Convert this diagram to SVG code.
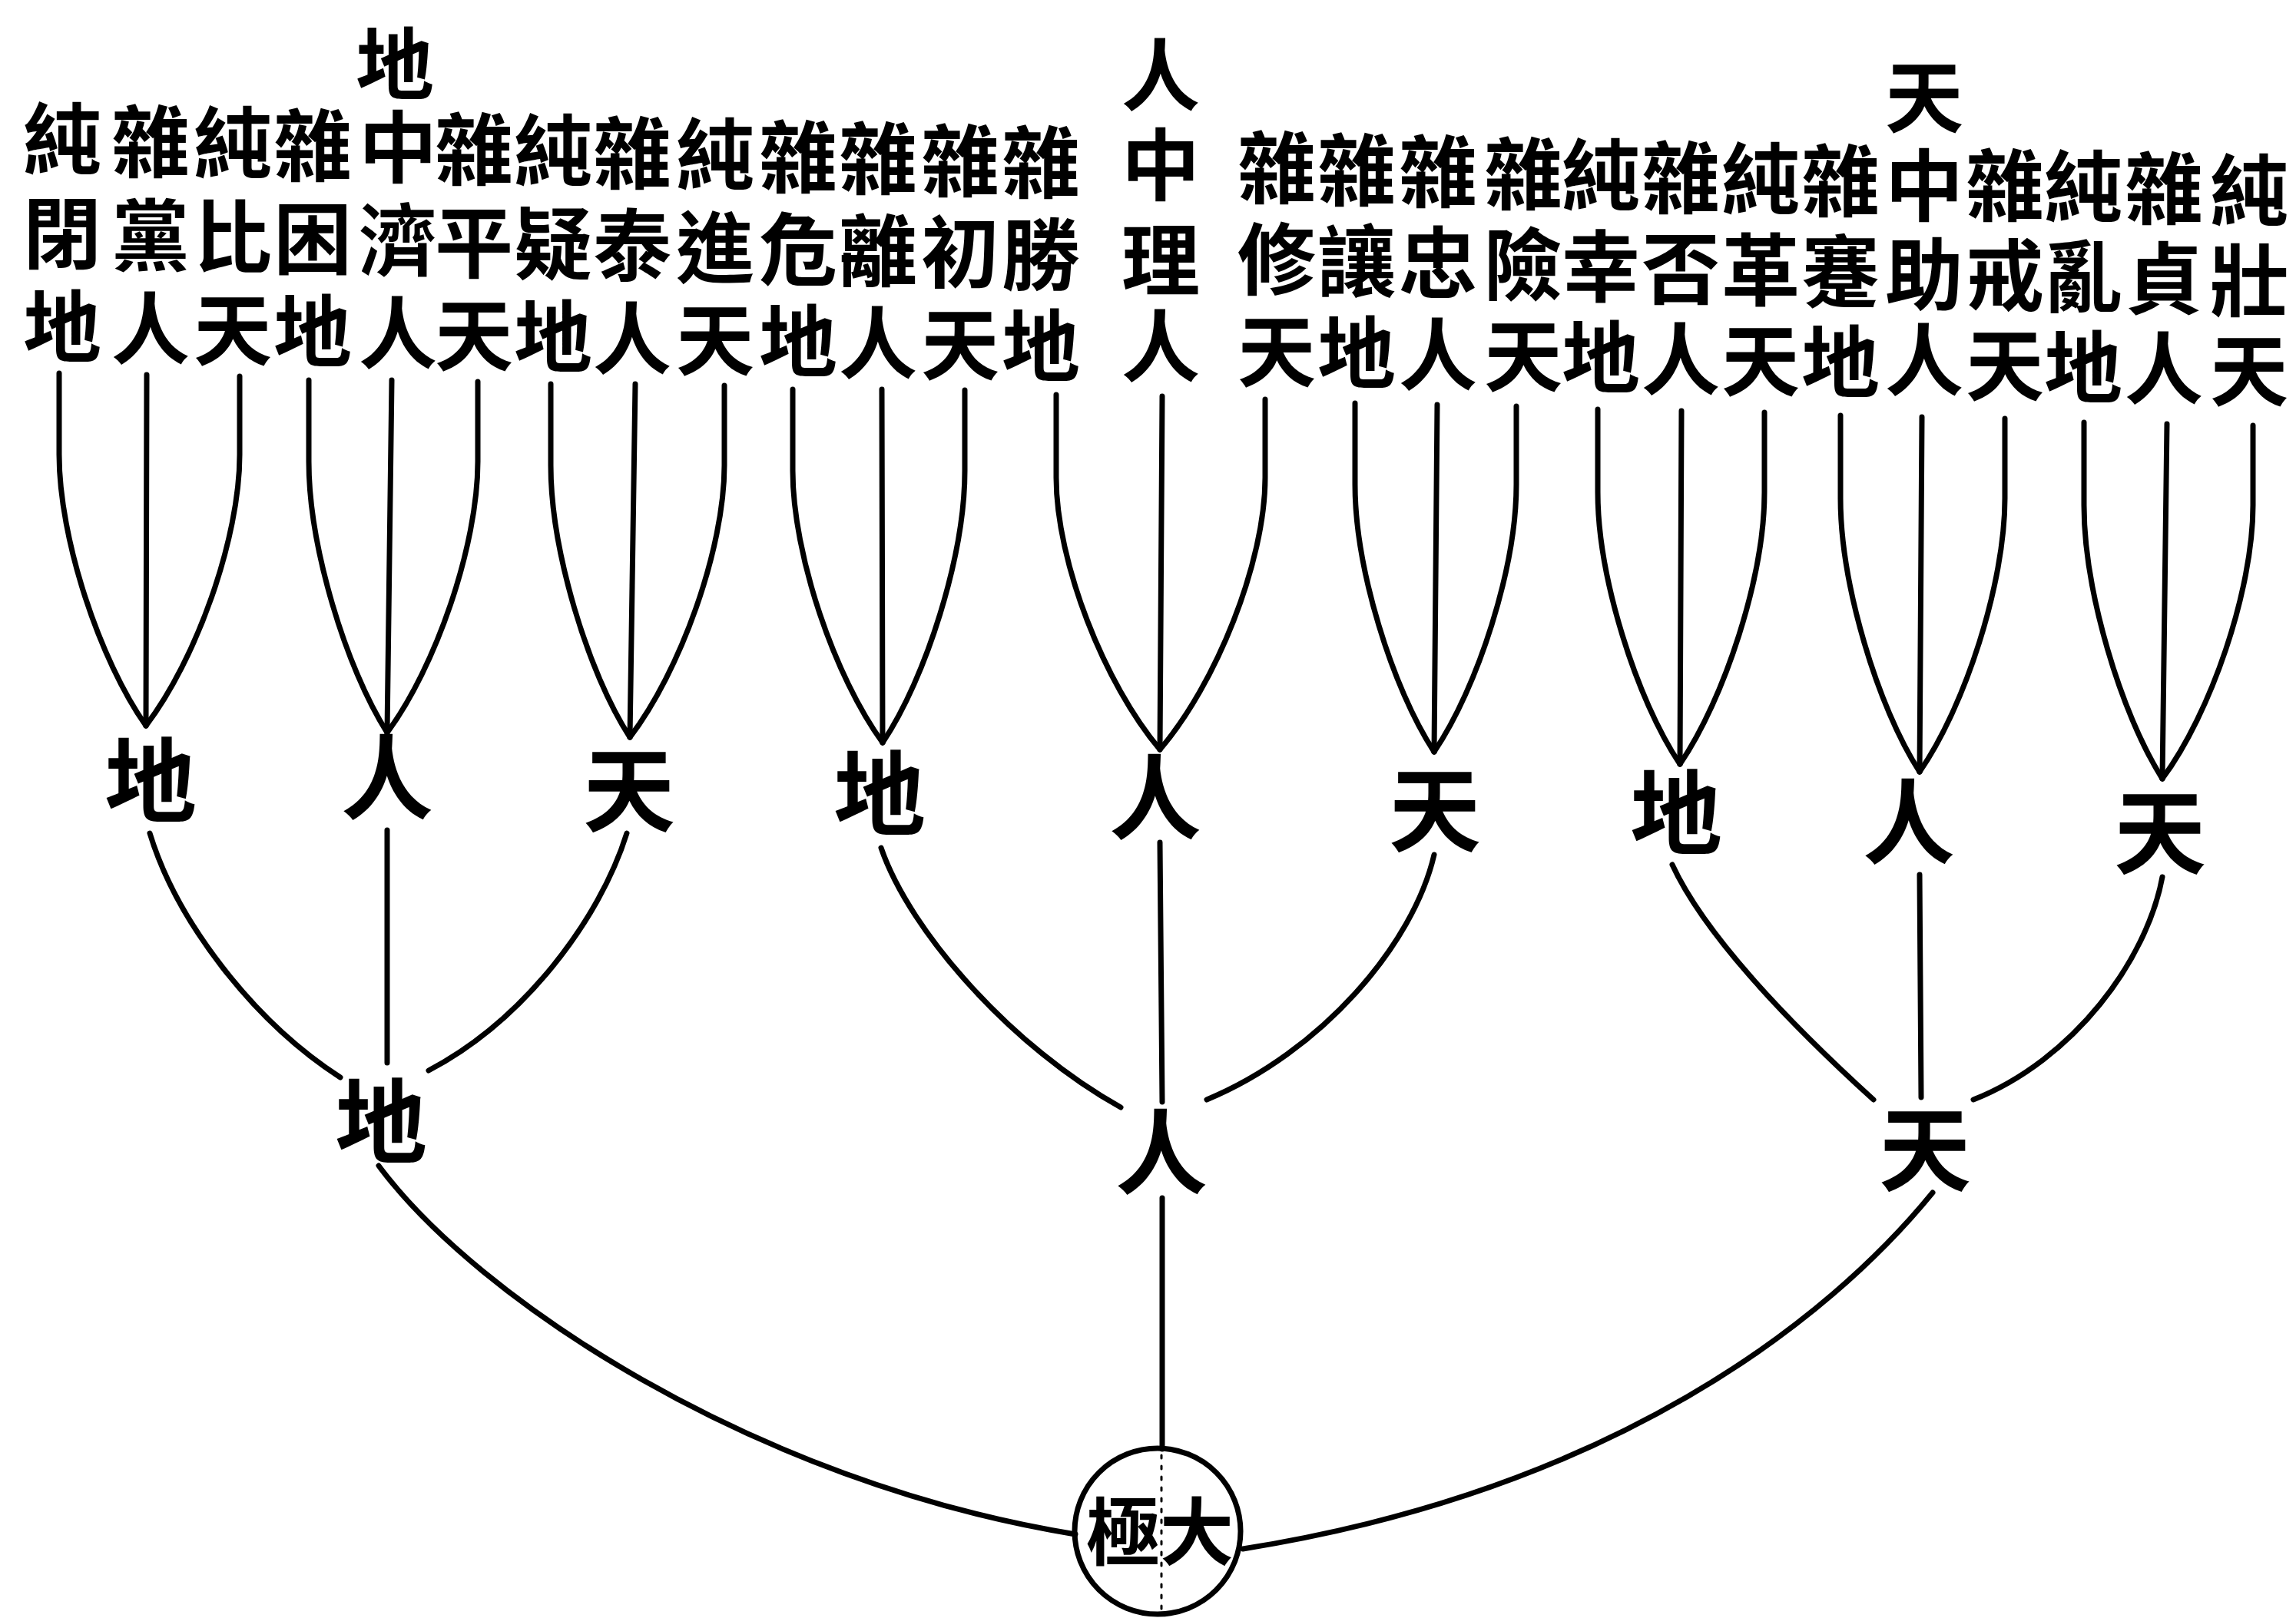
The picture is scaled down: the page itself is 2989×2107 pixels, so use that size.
<svg xmlns="http://www.w3.org/2000/svg" width="2989" height="2107" viewBox="0 0 2989 2107">
<style>
text{font-family:"Noto Sans CJK TC","Noto Sans CJK SC",sans-serif;font-weight:700;text-anchor:middle;fill:#000}
.t{font-size:102px}
.m{font-size:120px}
.k{font-size:96px}
.c path,.c circle{stroke:#000;stroke-width:7;fill:none;stroke-linecap:round}
.c .d{stroke-width:3;stroke-dasharray:4 10}
</style>
<rect width="2989" height="2107" fill="#fff"/>
<g class="c" id="connectors">
<path d="M77,486 L77,592 C77,702 130,860 190,945"/><path d="M191,488 L190,945"/><path d="M312,490 L312,592 C312,702 255,860 190,945"/>
<path d="M402,495 L402,601 C402,711 450,869 504,954"/><path d="M510,495 L504,954"/><path d="M622,497 L622,601 C622,711 567,869 504,954"/>
<path d="M717,500 L717,606 C717,716 765,875 820,960"/><path d="M827,500 L820,960"/><path d="M943,502 L943,606 C943,716 885,875 820,960"/>
<path d="M1032,507 L1032,613 C1032,723 1087,882 1149,967"/><path d="M1148,507 L1149,967"/><path d="M1256,508 L1256,613 C1256,723 1206,882 1149,967"/>
<path d="M1375,514 L1375,622 C1375,732 1438,891 1510,976"/><path d="M1513,516 L1510,976"/><path d="M1647,520 L1647,622 C1647,732 1583,891 1510,976"/>
<path d="M1764,525 L1764,631 C1764,739 1812,895 1867,979"/><path d="M1871,527 L1867,979"/><path d="M1974,529 L1974,631 C1974,739 1924,895 1867,979"/>
<path d="M2080,533 L2080,641 C2080,751 2130,910 2187,995"/><path d="M2189,535 L2187,995"/><path d="M2297,537 L2297,641 C2297,751 2245,910 2187,995"/>
<path d="M2396,541 L2396,649 C2396,760 2444,920 2499,1005"/><path d="M2502,543 L2499,1005"/><path d="M2610,545 L2610,649 C2610,760 2558,920 2499,1005"/>
<path d="M2713,550 L2713,658 C2713,769 2761,929 2815,1014"/><path d="M2821,552 L2815,1014"/><path d="M2933,554 L2933,658 C2933,769 2878,929 2815,1014"/>
<path d="M195,1085 C230,1200 330,1330 443,1403"/><path d="M504,1081 L504,1384"/><path d="M816,1085 C780,1200 680,1330 558,1394"/>
<path d="M1147,1104 C1185,1215 1320,1365 1459,1442"/><path d="M1510,1097 L1513,1435"/><path d="M1867,1113 C1840,1230 1720,1370 1571,1432"/>
<path d="M2177,1126 C2225,1230 2360,1360 2439,1432"/><path d="M2499,1139 L2501,1429"/><path d="M2815,1142 C2795,1250 2700,1380 2569,1432"/>
<path d="M493,1518 C620,1690 980,1930 1400,1998"/><path d="M1513,1560 L1513,1887"/><path d="M2516,1553 C2380,1720 2100,1940 1618,2017"/>
<circle cx="1507" cy="1994" r="108"/>
<path class="d" d="M1512,1895 L1512,2100"/>
</g>
<g id="c1"><text class="t"><tspan x="81" y="220">純</tspan><tspan x="81" y="342">閉</tspan><tspan x="81" y="464">地</tspan></text></g>
<g id="c2"><text class="t"><tspan x="196" y="223">雜</tspan><tspan x="196" y="345">黨</tspan><tspan x="196" y="466">人</tspan></text></g>
<g id="c3"><text class="t"><tspan x="303" y="225">純</tspan><tspan x="303" y="347">比</tspan><tspan x="303" y="468">天</tspan></text></g>
<g id="c4"><text class="t"><tspan x="407" y="228">雜</tspan><tspan x="407" y="349">困</tspan><tspan x="407" y="470">地</tspan></text></g>
<g id="c5"><text class="t"><tspan x="514" y="122">地</tspan><tspan x="518" y="230">中</tspan><tspan x="518" y="351">濟</tspan><tspan x="518" y="472">人</tspan></text></g>
<g id="c6"><text class="t"><tspan x="617" y="233">雜</tspan><tspan x="617" y="354">平</tspan><tspan x="617" y="475">天</tspan></text></g>
<g id="c7"><text class="t"><tspan x="720" y="235">純</tspan><tspan x="720" y="356">疑</tspan><tspan x="720" y="477">地</tspan></text></g>
<g id="c8"><text class="t"><tspan x="823" y="238">雜</tspan><tspan x="823" y="358">泰</tspan><tspan x="823" y="479">人</tspan></text></g>
<g id="c9"><text class="t"><tspan x="931" y="240">純</tspan><tspan x="931" y="361">進</tspan><tspan x="931" y="481">天</tspan></text></g>
<g id="c10"><text class="t"><tspan x="1039" y="243">雜</tspan><tspan x="1039" y="363">危</tspan><tspan x="1039" y="483">地</tspan></text></g>
<g id="c11"><text class="t"><tspan x="1143" y="245">雜</tspan><tspan x="1143" y="365">離</tspan><tspan x="1143" y="485">人</tspan></text></g>
<g id="c12"><text class="t"><tspan x="1250" y="248">雜</tspan><tspan x="1250" y="367">初</tspan><tspan x="1250" y="487">天</tspan></text></g>
<g id="c13"><text class="t"><tspan x="1355" y="250">雜</tspan><tspan x="1355" y="370">勝</tspan><tspan x="1355" y="489">地</tspan></text></g>
<g id="c14"><text class="t"><tspan x="1511" y="136">人</tspan><tspan x="1511" y="253">中</tspan><tspan x="1511" y="377">理</tspan><tspan x="1511" y="489">人</tspan></text></g>
<g id="c15"><text class="t"><tspan x="1662" y="257">雜</tspan><tspan x="1662" y="376">修</tspan><tspan x="1662" y="496">天</tspan></text></g>
<g id="c16"><text class="t"><tspan x="1766" y="260">雜</tspan><tspan x="1766" y="379">讓</tspan><tspan x="1766" y="498">地</tspan></text></g>
<g id="c17"><text class="t"><tspan x="1872" y="262">雜</tspan><tspan x="1872" y="381">忠</tspan><tspan x="1872" y="500">人</tspan></text></g>
<g id="c18"><text class="t"><tspan x="1983" y="265">雜</tspan><tspan x="1983" y="383">險</tspan><tspan x="1983" y="502">天</tspan></text></g>
<g id="c19"><text class="t"><tspan x="2084" y="267">純</tspan><tspan x="2084" y="385">幸</tspan><tspan x="2084" y="504">地</tspan></text></g>
<g id="c20"><text class="t"><tspan x="2188" y="270">雜</tspan><tspan x="2188" y="388">否</tspan><tspan x="2188" y="506">人</tspan></text></g>
<g id="c21"><text class="t"><tspan x="2292" y="272">純</tspan><tspan x="2292" y="390">革</tspan><tspan x="2292" y="508">天</tspan></text></g>
<g id="c22"><text class="t"><tspan x="2396" y="274">雜</tspan><tspan x="2396" y="392">蹇</tspan><tspan x="2396" y="510">地</tspan></text></g>
<g id="c23"><text class="t"><tspan x="2505" y="165">天</tspan><tspan x="2505" y="280">中</tspan><tspan x="2505" y="396">助</tspan><tspan x="2505" y="507">人</tspan></text></g>
<g id="c24"><text class="t"><tspan x="2610" y="280">雜</tspan><tspan x="2610" y="397">戒</tspan><tspan x="2610" y="514">天</tspan></text></g>
<g id="c25"><text class="t"><tspan x="2712" y="282">純</tspan><tspan x="2712" y="399">亂</tspan><tspan x="2712" y="517">地</tspan></text></g>
<g id="c26"><text class="t"><tspan x="2817" y="284">雜</tspan><tspan x="2817" y="401">貞</tspan><tspan x="2817" y="518">人</tspan></text></g>
<g id="c27"><text class="t"><tspan x="2928" y="287">純</tspan><tspan x="2928" y="404">壯</tspan><tspan x="2928" y="521">天</tspan></text></g>
<g id="m1"><text class="m" x="196" y="1062">地</text></g>
<g id="m2"><text class="m" x="504" y="1058">人</text></g>
<g id="m3"><text class="m" x="819" y="1074">天</text></g>
<g id="m4"><text class="m" x="1145" y="1079">地</text></g>
<g id="m5"><text class="m" x="1504" y="1084">人</text></g>
<g id="m6"><text class="m" x="1868" y="1100">天</text></g>
<g id="m7"><text class="m" x="2182" y="1104">地</text></g>
<g id="m8"><text class="m" x="2485" y="1116">人</text></g>
<g id="m9"><text class="m" x="2812" y="1129">天</text></g>
<g id="b1"><text class="m" x="496" y="1506">地</text></g>
<g id="b2"><text class="m" x="1512" y="1546">人</text></g>
<g id="b3"><text class="m" x="2506" y="1542">天</text></g>
<g id="taiji"><text class="k"><tspan x="1462" y="2030">極</tspan><tspan x="1558" y="2030">大</tspan></text></g>
</svg>
